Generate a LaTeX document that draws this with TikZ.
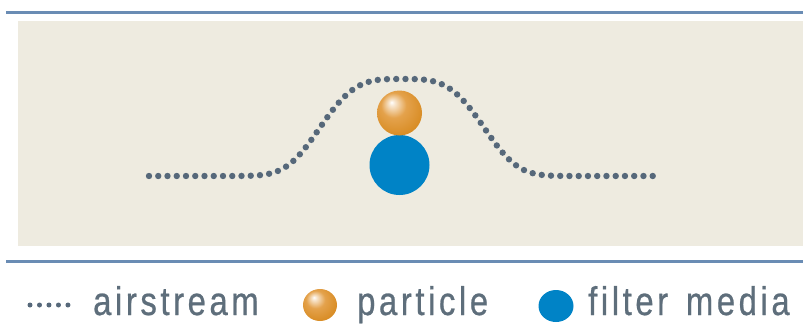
\documentclass[tikz,border=0pt]{standalone}
\usepackage{fontspec}
\usetikzlibrary{shapes.geometric}
\newfontfamily\legendfont[FakeStretch=0.82,FakeBold=0.6,LetterSpace=9,WordSpace=1.4]{Liberation Sans}

\definecolor{rulecol}{HTML}{6A8CB4}
\definecolor{panel}{HTML}{EEEBE0}
\definecolor{flowcol}{HTML}{56687A}
\definecolor{labelcol}{HTML}{5E6E7B}
\definecolor{mediablue}{HTML}{0083C6}
\definecolor{amber}{HTML}{D88C24}
\definecolor{amberlight}{HTML}{E4A24C}
\definecolor{amberdark}{HTML}{CC7E18}

% orange sphere with a soft highlight up and to the left
\pgfdeclareradialshading{particleshade}{\pgfpoint{-9bp}{12bp}}{%
  color(0bp)=(white); color(3bp)=(white!75!amberlight);
  color(14bp)=(amberlight); color(30bp)=(amber); color(50bp)=(amberdark)}

\tikzset{
  rulestyle/.style={draw=rulecol, line width=3pt},
  flowdots/.style={draw=flowcol, line width=6.4pt, line cap=round,
                   dash pattern=on 0pt off 9.25pt},
  legenddots/.style={draw=flowcol, line width=5pt, line cap=round,
                     dash pattern=on 0pt off 9.49pt},
  particleball/.style={circle, inner sep=0pt, shade, shading=particleshade},
  mediaball/.style={circle, inner sep=0pt, fill=mediablue},
  legendtext/.style={inner sep=0pt, anchor=base west, text=labelcol,
                     font=\legendfont\fontsize{40}{44}\selectfont},
}

\begin{document}
\begin{tikzpicture}[x=1pt,y=-1pt]
  \useasboundingbox (0,0) rectangle (803,324);

  % frame: rules and panel
  \coordinate (topL) at (6,12);    \coordinate (topR) at (803,12);
  \coordinate (botL) at (6,261);   \coordinate (botR) at (803,261);
  \draw[rulestyle] (topL) -- (topR);
  \draw[rulestyle] (botL) -- (botR);
  \fill[panel] (18,21) rectangle (803,246);

  % airstream bending over the particle
  \draw[flowdots] plot[domain=149:660, samples=256]
    (\x, {176-97*exp(-pow(abs(\x-402)/91+0.0001,3.5))});

  % particle resting on the filter medium
  \node[mediaball, minimum size=60pt] (media) at (399.5,165) {};
  \node[particleball, minimum size=45pt] (particle) at (399.5,113) {};

  % legend
  \coordinate (legdotL) at (30,305);
  \coordinate (legdotR) at (68,305);
  \draw[legenddots] (legdotL) -- (legdotR);
  \node[legendtext] (lblair) at (93,315) {airstream};

  \node[ellipse, inner sep=0pt, shade, shading=particleshade,
        minimum width=34pt, minimum height=32pt] (legparticle) at (320,305) {};
  \node[legendtext] (lblparticle) at (357,315) {particle};

  \node[ellipse, inner sep=0pt, fill=mediablue,
        minimum width=35pt, minimum height=32pt] (legmedia) at (556,306) {};
  \node[legendtext] (lblmedia) at (588,315) {filter media};
\end{tikzpicture}
\end{document}
